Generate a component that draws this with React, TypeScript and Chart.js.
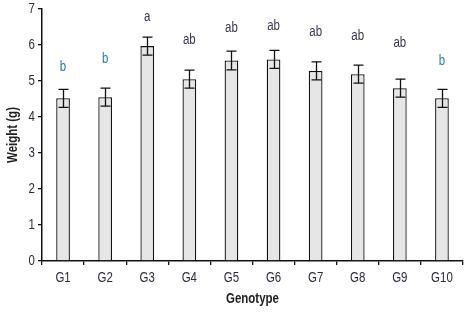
import React, { useEffect, useRef } from "react";
import { Chart, registerables } from "chart.js";

Chart.register(...registerables);

const categories = ["G1", "G2", "G3", "G4", "G5", "G6", "G7", "G8", "G9", "G10"];
const weights = [4.52, 4.55, 5.97, 5.05, 5.57, 5.6, 5.28, 5.19, 4.8, 4.52];
const errors = [0.25, 0.25, 0.25, 0.25, 0.26, 0.25, 0.25, 0.25, 0.25, 0.25];
const letters = ["b", "b", "a", "ab", "ab", "ab", "ab", "ab", "ab", "b"];
const letterY = [5.39, 5.62, 6.77, 6.14, 6.47, 6.53, 6.36, 6.25, 6.06, 5.56];
const yTicks = [0, 1, 2, 3, 4, 5, 6, 7];
const xTitle = "Genotype";
const yTitle = "Weight (g)";

const FONT = "'Liberation Sans', Arial, sans-serif";
const NARROW = 0.82;
const TEXT = "#2c2c3c";

function narrowText(ctx: any, text: string, x: number, y: number, font: string, color: string, align: string, rot = 0) {
  ctx.save();
  ctx.translate(x, y);
  if (rot) ctx.rotate(rot);
  ctx.scale(NARROW, 1);
  ctx.font = font;
  ctx.fillStyle = color;
  ctx.textAlign = align;
  ctx.textBaseline = "middle";
  ctx.fillText(text, 0, 0);
  ctx.restore();
}

const overlayPlugin = {
  id: "overlay",
  afterDatasetsDraw(chart: any) {
    const ctx = chart.ctx;
    const xs = chart.scales.x;
    const ys = chart.scales.y;
    const area = chart.chartArea;
    ctx.save();
    ctx.strokeStyle = "#111";
    ctx.lineWidth = 1.3;
    weights.forEach((v, i) => {
      const x = Math.round(xs.getPixelForValue(i)) + 0.5;
      const top = ys.getPixelForValue(v + errors[i]);
      const bot = ys.getPixelForValue(v - errors[i]);
      ctx.beginPath();
      ctx.moveTo(x, top);
      ctx.lineTo(x, bot);
      ctx.moveTo(x - 5, top);
      ctx.lineTo(x + 5, top);
      ctx.moveTo(x - 5, bot);
      ctx.lineTo(x + 5, bot);
      ctx.stroke();
    });
    ctx.restore();

    letters.forEach((t, i) => {
      const x = xs.getPixelForValue(i);
      const y = ys.getPixelForValue(letterY[i]);
      narrowText(ctx, t, x, y, `14px ${FONT}`, t === "b" ? "#2a78b0" : "#3a3550", "center");
    });

    yTicks.forEach((v) => {
      narrowText(ctx, String(v), area.left - 7, ys.getPixelForValue(v), `14px ${FONT}`, TEXT, "right");
    });
    categories.forEach((c, i) => {
      narrowText(ctx, c, xs.getPixelForValue(i), area.bottom + 17, `14px ${FONT}`, TEXT, "center");
    });
    narrowText(ctx, xTitle, (area.left + area.right) / 2, area.bottom + 38.5, `bold 14px ${FONT}`, "#222", "center");
    narrowText(ctx, yTitle, area.left - 28.5, (area.top + area.bottom) / 2, `bold 14px ${FONT}`, "#222", "center", -Math.PI / 2);
  },
};

export default function App() {
  const ref = useRef<HTMLCanvasElement>(null);
  useEffect(() => {
    const chart = new Chart(ref.current!, {
      type: "bar",
      data: {
        labels: categories,
        datasets: [
          {
            data: weights,
            backgroundColor: "#e6e6e6",
            borderColor: "#111",
            borderWidth: 1.3,
            categoryPercentage: 1,
            barPercentage: 0.325,
          },
        ],
      },
      options: {
        animation: false,
        responsive: false,
        maintainAspectRatio: false,
        layout: { padding: { top: 9, right: 4, left: 0, bottom: 0 } },
        plugins: { legend: { display: false }, tooltip: { enabled: false } },
        scales: {
          x: {
            grid: {
              offset: true,
              drawOnChartArea: false,
              drawTicks: true,
              tickLength: 4,
              color: "#111",
              lineWidth: 1.3,
            },
            border: { display: true, color: "#111", width: 1.5 },
            ticks: { display: false },
            afterFit: (s: any) => {
              s.height = 52;
            },
          },
          y: {
            min: 0,
            max: 7,
            afterBuildTicks: (s: any) => {
              s.ticks = yTicks.map((v) => ({ value: v }));
            },
            grid: {
              drawOnChartArea: false,
              drawTicks: true,
              tickLength: 4,
              color: "#111",
              lineWidth: 1.3,
            },
            border: { display: true, color: "#111", width: 1.5 },
            ticks: { display: false },
            afterFit: (s: any) => {
              s.width = 42;
            },
          },
        },
      },
      plugins: [overlayPlugin],
    });
    return () => chart.destroy();
  }, []);
  return (
    <div style={{ position: "fixed", left: 0, top: 0, width: 467, height: 313, background: "#fff" }}>
      <canvas ref={ref} width={467} height={313} style={{ display: "block" }} />
    </div>
  );
}
